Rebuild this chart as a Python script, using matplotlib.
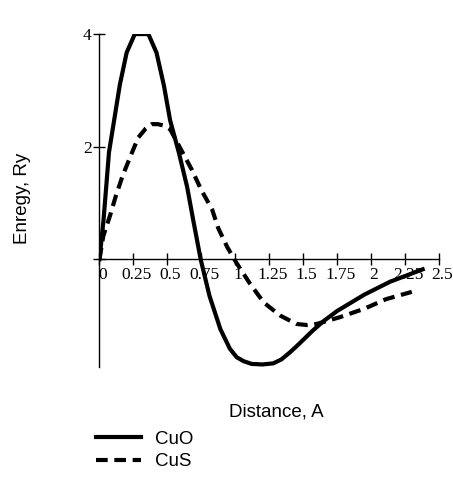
import matplotlib
matplotlib.use("Agg")
import matplotlib.pyplot as plt
from matplotlib.transforms import ScaledTranslation

# Values
cuo_x = [0, 0.03, 0.05, 0.07, 0.11, 0.15, 0.2, 0.26, 0.31, 0.36, 0.42, 0.475,
         0.52, 0.585, 0.645, 0.69, 0.745, 0.81, 0.89, 0.96, 1.01, 1.06, 1.12,
         1.2, 1.28, 1.34, 1.4, 1.45, 1.57, 1.65, 1.75, 1.95, 2.14, 2.38]
cuo_y = [0, 0.7, 1.3, 1.9, 2.5, 3.1, 3.67, 4.0, 4.0, 4.0, 3.67, 3.08,
         2.47, 1.89, 1.29, 0.7, 0, -0.65, -1.24, -1.59, -1.74, -1.81, -1.86,
         -1.87, -1.85, -1.78, -1.66, -1.55, -1.27, -1.1, -0.92, -0.63, -0.4, -0.18]

cus_x = [0, 0.028, 0.077, 0.12, 0.17, 0.22, 0.285, 0.34, 0.385, 0.43, 0.48,
         0.52, 0.6, 0.68, 0.75, 0.83, 0.875, 0.94, 1.01, 1.11, 1.21, 1.33,
         1.45, 1.53, 1.6, 1.77, 1.95, 2.11, 2.3]
cus_y = [0, 0.41, 0.77, 1.12, 1.48, 1.78, 2.16, 2.32, 2.40, 2.40, 2.37,
         2.31, 1.95, 1.59, 1.23, 0.88, 0.55, 0.22, -0.07, -0.44, -0.77, -1.0,
         -1.15, -1.17, -1.15, -1.03, -0.88, -0.71, -0.58]

x_ticks = [0, 0.25, 0.5, 0.75, 1, 1.25, 1.5, 1.75, 2, 2.25, 2.5]
x_labels = ["0", "0.25", "0.5", "0.75", "1", "1.25", "1.5", "1.75", "2", "2.25", "2.5"]
y_ticks = [0, 2, 4]
y_labels = ["", "2", "4"]

fig = plt.figure(figsize=(4.53, 4.8), dpi=100)
ax = fig.add_axes([0.2196, 0.236, 0.7494, 0.693])

ax.plot(cuo_x, cuo_y, color="black", lw=3, label="CuO")
ax.plot(cus_x, cus_y, color="black", lw=3, dashes=(2.8, 1.6), label="CuS")

ax.set_xlim(0, 2.5)
ax.set_ylim(-1.91, 4)

# axes cross at the origin
ax.spines["left"].set_position(("data", 0))
ax.spines["bottom"].set_position(("data", 0))
ax.spines["right"].set_visible(False)
ax.spines["top"].set_visible(False)
for s in ("left", "bottom"):
    ax.spines[s].set_linewidth(1)

ax.set_xticks(x_ticks)
ax.set_xticklabels(x_labels, family="Liberation Serif", fontsize=12.5)
ax.set_yticks(y_ticks)
ax.set_yticklabels(y_labels, family="Liberation Serif", fontsize=12.5)
ax.tick_params(axis="both", direction="inout", length=9, width=1, pad=1)
shift = ScaledTranslation(3 / 100, 0, fig.dpi_scale_trans)
for lab in ax.get_xticklabels():
    lab.set_transform(lab.get_transform() + shift)

fig.text(0.609, 0.142, "Distance, A", family="Liberation Sans", fontsize=13.5,
         ha="center", va="center")
fig.text(0.049, 0.5875, "Enregy, Ry", family="Liberation Sans", fontsize=13.5,
         ha="center", va="center", rotation=90)

fig.legend(loc="upper left", bbox_to_anchor=(0.213, 0.1033), frameon=False,
           prop={"family": "Liberation Sans", "size": 13.5}, handlelength=2.4,
           handletextpad=0.71, labelspacing=0.3, borderpad=0, borderaxespad=0)

fig.savefig("out.png", dpi=100)
